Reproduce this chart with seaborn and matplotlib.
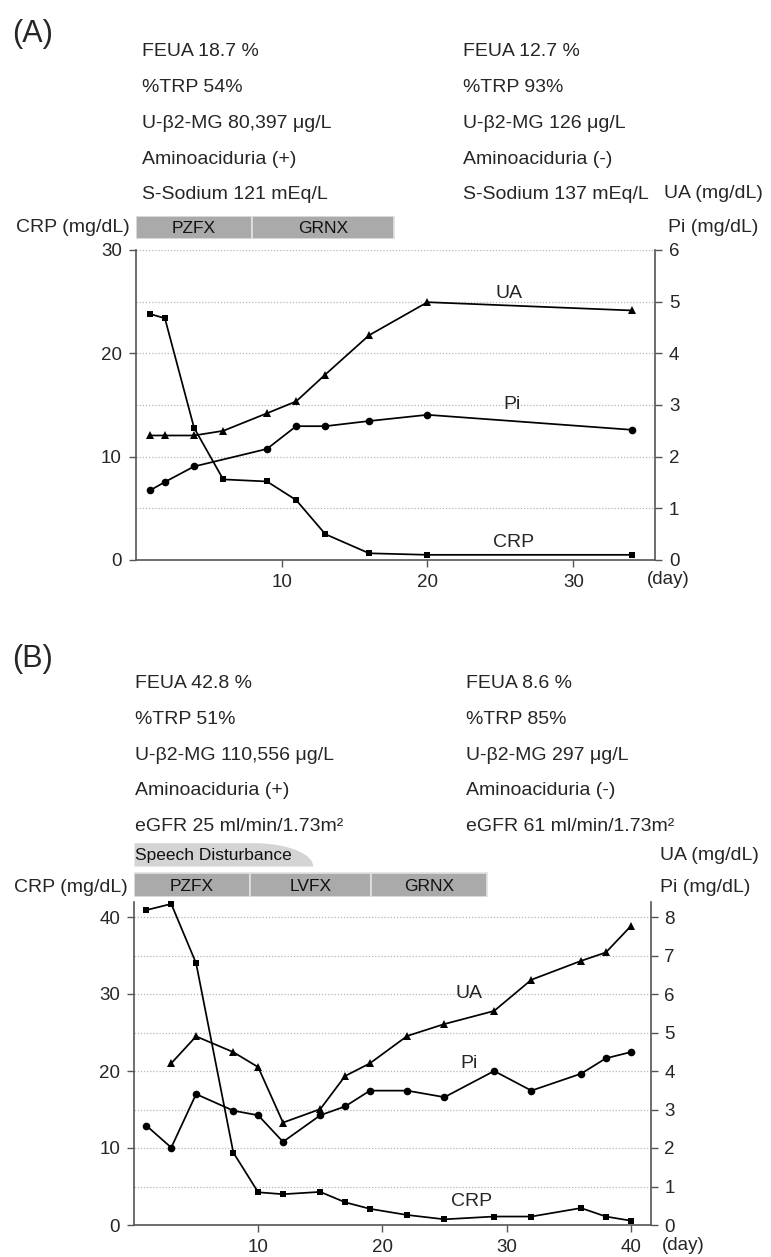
import numpy as np
import matplotlib
matplotlib.use("Agg")
import matplotlib.pyplot as plt
from matplotlib.ticker import MultipleLocator
import seaborn as sns

# ---- panel A data ----
a_crp_day = [1, 2, 4, 6, 9, 11, 13, 16, 20, 34]
a_crp = [23.8, 23.4, 12.8, 7.8, 7.6, 5.8, 2.5, 0.65, 0.5, 0.5]
a_ua_day = [1, 2, 4, 6, 9, 11, 13, 16, 20, 34]
a_ua = [2.41, 2.41, 2.41, 2.50, 2.84, 3.07, 3.59, 4.35, 4.99, 4.83]
a_pi_day = [1, 2, 4, 9, 11, 13, 16, 20, 34]
a_pi = [1.35, 1.51, 1.81, 2.15, 2.59, 2.59, 2.69, 2.81, 2.52]
a_drugs = ["PZFX", "GRNX"]
a_drug_start = [0, 8.0]
a_drug_end = [8.0, 17.7]
a_text_left = ["FEUA 18.7 %", "%TRP 54%", "U-β2-MG 80,397 μg/L",
               "Aminoaciduria (+)", "S-Sodium 121 mEq/L"]
a_text_right = ["FEUA 12.7 %", "%TRP 93%", "U-β2-MG 126 μg/L",
                "Aminoaciduria (-)", "S-Sodium 137 mEq/L"]

# ---- panel B data ----
b_crp_day = [1, 3, 5, 8, 10, 12, 15, 17, 19, 22, 25, 29, 32, 36, 38, 40]
b_crp = [40.9, 41.7, 34.0, 9.4, 4.25, 4.0, 4.3, 2.95, 2.1, 1.3, 0.74, 1.1,
         1.1, 2.2, 1.1, 0.56]
b_ua_day = [3, 5, 8, 10, 12, 15, 17, 19, 22, 25, 29, 32, 36, 38, 40]
b_ua = [4.20, 4.90, 4.49, 4.10, 2.66, 3.01, 3.87, 4.20, 4.91, 5.22, 5.56,
        6.37, 6.86, 7.08, 7.76]
b_pi_day = [1, 3, 5, 8, 10, 12, 15, 17, 19, 22, 25, 29, 32, 36, 38, 40]
b_pi = [2.58, 2.01, 3.40, 2.97, 2.85, 2.16, 2.85, 3.08, 3.49, 3.49, 3.32,
        4.0, 3.49, 3.93, 4.33, 4.49]
b_drugs = ["PZFX", "LVFX", "GRNX"]
b_drug_start = [0, 9.35, 19.05]
b_drug_end = [9.35, 19.05, 28.45]
speech_start, speech_full_end, speech_end = 0, 9.6, 14.4
b_text_left = ["FEUA 42.8 %", "%TRP 51%", "U-β2-MG 110,556 μg/L",
               "Aminoaciduria (+)", "eGFR 25 ml/min/1.73m²"]
b_text_right = ["FEUA 8.6 %", "%TRP 85%", "U-β2-MG 297 μg/L",
                "Aminoaciduria (-)", "eGFR 61 ml/min/1.73m²"]

sns.set_theme(style="white")
plt.rcParams["font.family"] = ["Liberation Sans", "DejaVu Sans"]

W, H = 771, 1257
fig = plt.figure(figsize=(W / 100, H / 100), dpi=100)

SPINE = "#555555"
GRID = "#b5b5b5"
BAR = "#aaaaaa"
LW = 1.25


def px_axes(left, top, right, bottom, **kw):
    return fig.add_axes([left / W, 1 - bottom / H, (right - left) / W,
                         (bottom - top) / H], **kw)


def ftext(x, y, s, **kw):
    fig.text(x / W, 1 - y / H, s, **kw)


def draw_panel(box, xmax, ymax_l, ymax_r, xticks, crp_day, crp, ua_day, ua,
               pi_day, pi):
    ax = px_axes(*box)
    sns.lineplot(x=crp_day, y=crp, ax=ax, color="black", marker="s",
                 markersize=5, linewidth=LW, markeredgewidth=0,
                 clip_on=False)
    ax.set_xlim(0, xmax)
    ax.set_ylim(0, ymax_l)
    ax.set_yticks([0, 10, 20, 30, 40][: int(ymax_l // 10) + 1])
    ax.yaxis.set_minor_locator(MultipleLocator(5))
    ax.grid(True, which="both", axis="y", color=GRID, linestyle=(0, (1, 1.5)),
            linewidth=0.9)
    ax.set_xticks(xticks)
    ax.tick_params(axis="both", which="major", direction="out", length=5,
                   width=1, color=SPINE, labelsize=13.5, pad=5,
                   left=True, bottom=True)
    ax.tick_params(axis="y", which="minor", length=0, left=False)
    for s in ["top", "right"]:
        ax.spines[s].set_visible(False)
    for s in ["left", "bottom"]:
        ax.spines[s].set_color(SPINE)
        ax.spines[s].set_linewidth(1.2)

    ax2 = ax.twinx()
    sns.lineplot(x=ua_day, y=ua, ax=ax2, color="black", marker="^",
                 markersize=5.5, linewidth=LW, markeredgewidth=0)
    sns.lineplot(x=pi_day, y=pi, ax=ax2, color="black", marker="o",
                 markersize=5.5, linewidth=LW, markeredgewidth=0)
    ax2.set_ylim(0, ymax_r)
    ax2.set_yticks(range(0, int(ymax_r) + 1))
    ax2.tick_params(axis="y", direction="out", length=5, width=1, color=SPINE,
                    labelsize=13.5, pad=5, right=True)
    for s in ["top", "left", "bottom"]:
        ax2.spines[s].set_visible(False)
    ax2.spines["right"].set_color(SPINE)
    ax2.spines["right"].set_linewidth(1.2)
    ax2.grid(False)
    ax.set_xlabel("")
    ax.set_ylabel("")
    ax2.set_ylabel("")
    return ax, ax2


def draw_bars(box, xlim, ylim, starts, ends, names, row_bottom=0):
    axb = px_axes(*box)
    axb.barh([row_bottom + 0.5] * len(names),
             [e - s for s, e in zip(starts, ends)], left=starts, height=1.0,
             color=BAR, edgecolor="#e2e2e2", linewidth=1.2)
    for s, e, n in zip(starts, ends, names):
        axb.text((s + e) / 2, row_bottom + 0.45, n, ha="center", va="center",
                 fontsize=12.5, color="#111111")
    axb.set_xlim(*xlim)
    axb.set_ylim(*ylim)
    axb.axis("off")
    return axb


# ================= Panel A =================
ftext(12, 34, "(A)", fontsize=22, va="center", ha="left")
for i, (l, r) in enumerate(zip(a_text_left, a_text_right)):
    y = 51.7 + i * 35.8
    ftext(141.7, y, l, fontsize=14, va="center")
    ftext(462.7, y, r, fontsize=14, va="center")

axA, axA2 = draw_panel((135.7, 250, 655, 560), 35.6, 30, 6, [10, 20, 30],
                       a_crp_day, a_crp, a_ua_day, a_ua, a_pi_day, a_pi)
draw_bars((135.7, 215.7, 655, 239), (0, 35.6), (0, 1),
          a_drug_start, a_drug_end, a_drugs)

ftext(130, 227, "CRP (mg/dL)", fontsize=14, va="center", ha="right")
ftext(713, 193, "UA (mg/dL)", fontsize=14, va="center", ha="center")
ftext(713, 227, "Pi (mg/dL)", fontsize=14, va="center", ha="center")
ftext(668, 580, "(day)", fontsize=13.5, va="center", ha="center")
axA2.text(25.6, 5.15, "UA", fontsize=14, ha="center", va="center")
axA2.text(25.8, 3.0, "Pi", fontsize=14, ha="center", va="center")
axA.text(25.9, 1.65, "CRP", fontsize=14, ha="center", va="center")

# ================= Panel B =================
ftext(12, 659, "(B)", fontsize=22, va="center", ha="left")
for i, (l, r) in enumerate(zip(b_text_left, b_text_right)):
    y = 683.3 + i * 35.85
    ftext(135, y, l, fontsize=14, va="center")
    ftext(466, y, r, fontsize=14, va="center")

axB, axB2 = draw_panel((134, 901.6, 650.6, 1225), 41.6, 42, 8.4,
                       [10, 20, 30, 40], b_crp_day, b_crp, b_ua_day, b_ua,
                       b_pi_day, b_pi)
axBb = draw_bars((134, 842.7, 650.6, 896.7), (0, 41.6), (0, 2.31),
                 b_drug_start, b_drug_end, b_drugs)

# speech disturbance band: flat top, then rounded fall-off
sx = np.linspace(speech_start, speech_end, 200)
frac = np.clip((sx - speech_full_end) / (speech_end - speech_full_end), 0, 1)
top = 1.31 + 1.0 * np.sqrt(1 - frac ** 2)
axBb.fill_between(sx, 1.31, top, color="#d4d4d4", linewidth=0)
axBb.text(speech_start + 0.1, 1.78, "Speech Disturbance", fontsize=12.5,
          va="center", ha="left", color="#111111")

ftext(128, 887, "CRP (mg/dL)", fontsize=14, va="center", ha="right")
ftext(660, 855, "UA (mg/dL)", fontsize=14, va="center", ha="left")
ftext(660, 888, "Pi (mg/dL)", fontsize=14, va="center", ha="left")
ftext(683, 1245, "(day)", fontsize=13.5, va="center", ha="center")
axB2.text(27.0, 6.02, "UA", fontsize=14, ha="center", va="center")
axB2.text(27.0, 4.2, "Pi", fontsize=14, ha="center", va="center")
axB.text(27.2, 3.0, "CRP", fontsize=14, ha="center", va="center")

fig.savefig("out.png", dpi=100)
